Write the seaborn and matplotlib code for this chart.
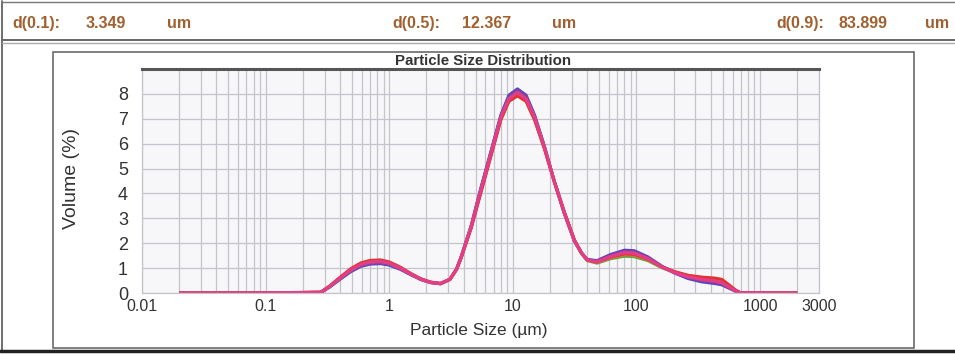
import numpy as np
import pandas as pd
import matplotlib
matplotlib.use("Agg")
import matplotlib.pyplot as plt
import seaborn as sns
from matplotlib.lines import Line2D
from matplotlib.patches import Rectangle
from matplotlib.ticker import FixedLocator, NullFormatter, LogLocator

# ---------------- data ----------------
sizes = [0.02, 0.1, 0.28, 0.33, 0.4, 0.49, 0.59, 0.7, 0.85, 1.0,
         1.23, 1.5, 1.8, 2.15, 2.6, 3.1, 3.5, 3.8, 4.6, 5.5,
         6.7, 8.0, 9.3, 10.9, 12.8, 15, 18, 21.6, 26, 31.5,
         36, 40, 48, 62, 80, 96, 124, 160, 204, 262,
         336, 430, 490, 557, 630, 690, 1000, 2000]

blue = [0, 0, 0.02, 0.24, 0.55, 0.86, 1.07, 1.16, 1.18, 1.12,
        0.95, 0.73, 0.54, 0.42, 0.37, 0.55, 0.95, 1.42, 2.7, 4.2,
        5.75, 7.15, 7.95, 8.2, 7.95, 7.15, 5.9, 4.5, 3.22, 2.08,
        1.6, 1.35, 1.3, 1.55, 1.72, 1.7, 1.45, 1.08, 0.8, 0.58,
        0.45, 0.38, 0.33, 0.2, 0.08, 0.01, 0, 0]

purple = [0, 0, 0.02, 0.25, 0.57, 0.89, 1.1, 1.19, 1.21, 1.15,
          0.97, 0.74, 0.55, 0.42, 0.37, 0.55, 0.95, 1.41, 2.68, 4.15,
          5.7, 7.1, 7.9, 8.15, 7.9, 7.1, 5.88, 4.5, 3.24, 2.1,
          1.6, 1.34, 1.28, 1.52, 1.68, 1.66, 1.42, 1.07, 0.81, 0.62,
          0.5, 0.43, 0.37, 0.22, 0.09, 0.01, 0, 0]

green = [0, 0, 0.03, 0.27, 0.6, 0.93, 1.15, 1.25, 1.27, 1.2,
         1.0, 0.76, 0.56, 0.43, 0.38, 0.55, 0.95, 1.4, 2.65, 4.1,
         5.65, 7.05, 7.8, 8.05, 7.8, 7.05, 5.85, 4.5, 3.25, 2.1,
         1.58, 1.3, 1.2, 1.38, 1.48, 1.46, 1.3, 1.02, 0.82, 0.66,
         0.57, 0.52, 0.46, 0.28, 0.11, 0.01, 0, 0]

orange = [0, 0, 0.03, 0.28, 0.62, 0.96, 1.18, 1.28, 1.3, 1.23,
          1.02, 0.77, 0.57, 0.44, 0.38, 0.55, 0.94, 1.39, 2.63, 4.05,
          5.6, 6.98, 7.72, 7.95, 7.72, 6.98, 5.82, 4.5, 3.27, 2.12,
          1.6, 1.32, 1.23, 1.42, 1.55, 1.53, 1.35, 1.05, 0.85, 0.7,
          0.62, 0.57, 0.52, 0.32, 0.12, 0.01, 0, 0]

red = [0, 0, 0.03, 0.28, 0.63, 0.98, 1.21, 1.31, 1.33, 1.25,
       1.04, 0.78, 0.57, 0.44, 0.38, 0.55, 0.94, 1.38, 2.6, 4.0,
       5.55, 6.95, 7.7, 7.92, 7.7, 6.95, 5.8, 4.5, 3.28, 2.13,
       1.61, 1.33, 1.24, 1.44, 1.57, 1.55, 1.36, 1.06, 0.86, 0.71,
       0.64, 0.6, 0.55, 0.34, 0.13, 0.01, 0, 0]

pink = [0, 0, 0.03, 0.27, 0.6, 0.93, 1.15, 1.25, 1.27, 1.2,
        1.0, 0.76, 0.56, 0.43, 0.38, 0.55, 0.95, 1.4, 2.65, 4.1,
        5.65, 7.05, 7.8, 8.05, 7.8, 7.05, 5.85, 4.5, 3.25, 2.1,
        1.6, 1.33, 1.25, 1.47, 1.62, 1.6, 1.38, 1.05, 0.82, 0.65,
        0.55, 0.48, 0.42, 0.25, 0.1, 0.01, 0, 0]

series_names = ["blue", "purple", "green", "orange", "red", "pink"]
series_values = [blue, purple, green, orange, red, pink]
series_colors = {"blue": "#4a47c8", "purple": "#8a3fa8", "green": "#6a9a3a",
                 "orange": "#e0902a", "red": "#e0332e", "pink": "#e23d86"}

y_ticks = [0, 1, 2, 3, 4, 5, 6, 7, 8]
x_ticks = [0.01, 0.1, 1, 10, 100, 1000, 3000]
x_tick_labels = ["0.01", "0.1", "1", "10", "100", "1000", "3000"]

stat_labels = ["d(0.1):", "d(0.5):", "d(0.9):"]
stat_values = ["3.349", "12.367", "83.899"]
stat_unit = "um"

title = "Particle Size Distribution"
x_label = "Particle Size (\u00b5m)"
y_label = "Volume (%)"

# ---------------- build table ----------------
rows = []
for name, vals in zip(series_names, series_values):
    for s, v in zip(sizes, vals):
        rows.append({"size": s, "volume": v, "run": name})
df = pd.DataFrame(rows)

# ---------------- figure ----------------
sns.set_theme(style="white")
plt.rcParams["font.family"] = ["Liberation Sans", "DejaVu Sans"]

W, H = 955, 354
fig = plt.figure(figsize=(W / 100, H / 100), dpi=100)
fig.patch.set_facecolor("white")

def fx(px):
    return px / W

def fy(py):
    return 1 - py / H

# outer frame lines
fig.add_artist(Line2D([fx(2), fx(2)], [fy(1), fy(352)], color="#555555", lw=1.2))
fig.add_artist(Line2D([fx(2), fx(955)], [fy(1.5), fy(1.5)], color="#777777", lw=1.0))
fig.add_artist(Line2D([fx(2), fx(955)], [fy(40), fy(40)], color="#666666", lw=1.4))
fig.add_artist(Line2D([fx(2), fx(955)], [fy(42.5), fy(42.5)], color="#aaaaaa", lw=1.0))
fig.add_artist(Line2D([0, 1], [fy(351), fy(351)], color="#222222", lw=2.5))

# inner box
fig.add_artist(Rectangle((fx(53), fy(348)), fx(914) - fx(53), fy(52) - fy(348),
                         fill=False, edgecolor="#6a6a6a", lw=1.2))

# header text
brown = "#a0602f"
hdr_font = dict(color=brown, fontsize=11.5, fontweight="bold", va="baseline",
                family=["Liberation Sans Narrow", "Liberation Sans", "DejaVu Sans"])
stat_x = [(12, 86, 167), (392, 462, 552), (776, 838, 925)]
for (xl, xv, xu), lab, val in zip(stat_x, stat_labels, stat_values):
    fig.text(fx(xl), fy(28), lab, ha="left", **hdr_font)
    fig.text(fx(xv), fy(28), val, ha="left", **hdr_font)
    fig.text(fx(xu), fy(28), stat_unit, ha="left", **hdr_font)

# axes
left, right, top, bottom = 142, 819, 69, 293
ax = fig.add_axes([fx(left), fy(bottom), fx(right) - fx(left), fy(top) - fy(bottom)])
ax.set_facecolor("#f7f7f9")

sns.lineplot(data=df, x="size", y="volume", hue="run", hue_order=series_names,
             palette=series_colors, estimator=None, sort=False, ax=ax,
             legend=False, linewidth=2.2)
for ln, name in zip(ax.get_lines(), series_names):
    if name == "pink":
        ln.set_linewidth(2.4)
    ln.set_solid_capstyle("butt")

ax.set_xscale("log")
ax.set_xlim(0.01, 3000)
ax.set_ylim(0, 9)

ax.xaxis.set_major_locator(FixedLocator(x_ticks))
ax.set_xticklabels(x_tick_labels)
ax.xaxis.set_minor_locator(LogLocator(base=10, subs=np.arange(2, 10), numticks=20))
ax.xaxis.set_minor_formatter(NullFormatter())
ax.set_yticks(y_ticks)
ax.set_yticklabels([str(t) for t in y_ticks])

ax.grid(True, which="both", axis="x", color="#c4c4cc", lw=0.9)
ax.grid(True, which="major", axis="y", color="#c4c4cc", lw=0.9)
ax.set_axisbelow(True)

ax.tick_params(axis="both", which="both", length=0)
ax.tick_params(axis="y", labelsize=13, pad=10, colors="#333333")
ax.tick_params(axis="x", labelsize=11.5, pad=4.5, colors="#333333")

for side in ["left", "right", "bottom"]:
    ax.spines[side].set_color("#c4c4cc")
    ax.spines[side].set_linewidth(0.9)
ax.spines["top"].set_color("#555555")
ax.spines["top"].set_linewidth(2.2)

ax.set_xlabel("")
ax.set_ylabel("")
fig.text(fx(483), fy(61), title, ha="center", va="center", fontsize=10.8,
         fontweight="bold", color="#333333")
fig.text(fx(479), fy(331), x_label, ha="center", va="center", fontsize=12.5,
         color="#333333")
fig.text(fx(71), fy(179), y_label, ha="center", va="center", fontsize=14,
         rotation=90, color="#333333")

fig.savefig("out.png", dpi=100, facecolor="white")
